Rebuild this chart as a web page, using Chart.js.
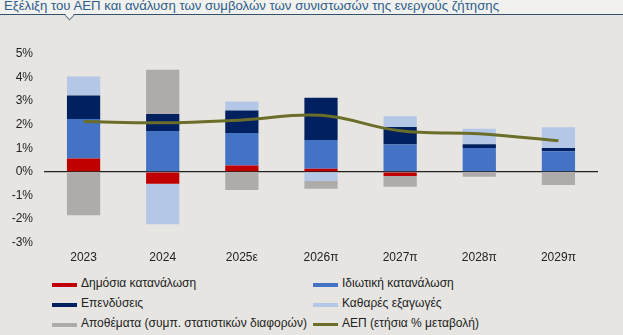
<!DOCTYPE html>
<html><head><meta charset="utf-8">
<script src="https://cdn.jsdelivr.net/npm/chart.js@4"></script>
<style>
html,body{margin:0;padding:0;}
body{width:623px;height:335px;background:#e6e5e1;position:relative;overflow:hidden;font-family:"Liberation Sans",Arial,sans-serif;}
#hdr{position:absolute;left:0;top:0;width:623px;height:14px;background:#f1f1ef;border-bottom:1px solid #33506e;}
#notch{position:absolute;left:66px;top:12px;width:6px;height:6px;background:#f1f1ef;border-right:1px solid #6a7f95;border-bottom:1px solid #6a7f95;transform:rotate(45deg);}
#title{position:absolute;left:4px;top:-2px;font-size:13.2px;color:#2f5d8a;white-space:nowrap;}
#wrap{position:absolute;left:0;top:18px;width:623px;height:247px;}
.lg{position:absolute;font-size:12px;color:#222;white-space:nowrap;}
.lg .sw{position:absolute;left:0;width:25px;}
.lg .tx{position:absolute;left:29px;top:0;}
</style></head>
<body>
<div id="hdr"></div>
<div id="notch"></div>
<div id="title">Εξέλιξη του ΑΕΠ και ανάλυση των συμβολών των συνιστωσών της ενεργούς ζήτησης</div>
<div id="wrap"><canvas id="c"></canvas></div>
<div id="legend"></div>
<script>
const categories = ["2023","2024","2025ε","2026π","2027π","2028π","2029π"];
const publicConsumption = [0.57,-0.50,0.27,0.13,-0.18,0.00,0.00];
const privateConsumption = [1.67,1.73,1.38,1.22,1.16,1.01,0.87];
const investment = [1.00,0.73,0.95,1.79,0.74,0.16,0.14];
const netExports = [0.81,-1.72,0.38,-0.39,0.46,0.66,0.88];
const inventories = [-1.84,1.87,-0.77,-0.33,-0.45,-0.21,-0.56];
const gdpGrowth = [2.14,2.08,2.20,2.40,1.74,1.62,1.32];
const yTicks = [-3,-2,-1,0,1,2,3,4,5];

const labels = ["Δημόσια κατανάλωση","Ιδιωτική κατανάλωση","Επενδύσεις","Καθαρές εξαγωγές","Αποθέματα (συμπ. στατιστικών διαφορών)","ΑΕΠ (ετήσια % μεταβολή)"];
const colors = ["#c00000","#4472c4","#002060","#b4c7e7","#aeabab","#6b6e29"];

const barSets = [publicConsumption,privateConsumption,investment,netExports,inventories];
const datasets = barSets.map((d,i)=>({
  type:'bar', label:labels[i], data:d, backgroundColor:colors[i], borderWidth:0,
  stack:'s', order:1, barPercentage:0.42, categoryPercentage:1.0
}));
datasets.push({type:'line',label:labels[5],data:gdpGrowth,borderColor:colors[5],borderWidth:3,
  pointRadius:0,tension:0.4,fill:false,order:0});

new Chart(document.getElementById('c'),{
  data:{labels:categories,datasets},
  options:{
    responsive:true,maintainAspectRatio:false,animation:false,
    layout:{padding:{top:36,right:25,bottom:0,left:0}},
    plugins:{legend:{display:false},tooltip:{enabled:false}},
    scales:{
      x:{stacked:true,grid:{display:false},border:{display:false},
        ticks:{color:'#222',font:{family:'Liberation Sans',size:12},padding:0}},
      y:{stacked:true,min:-3,max:5,
        afterBuildTicks:s=>{s.ticks=yTicks.map(v=>({value:v}));},
        afterFit:s=>{s.width=44;},
        border:{display:false},
        grid:{drawTicks:false,color:c=>c.tick&&c.tick.value===0?'#222':'rgba(0,0,0,0)',lineWidth:1.2},
        ticks:{color:'#222',font:{family:'Liberation Sans',size:12},padding:11,callback:v=>v+'%'}}
    }
  }
});

const lg = document.getElementById('legend');
const pos = [[52,276],[313,276],[52,296],[313,296],[52,316],[313,316]];
labels.forEach((t,i)=>{
  const d=document.createElement('div');d.className='lg';
  d.style.left=pos[i][0]+'px';d.style.top=pos[i][1]+'px';
  const h = i===5?3:4;
  d.innerHTML='<span class="sw" style="background:'+colors[i]+';height:'+h+'px;top:7px"></span><span class="tx">'+t+'</span>';
  lg.appendChild(d);
});
</script>
</body></html>
